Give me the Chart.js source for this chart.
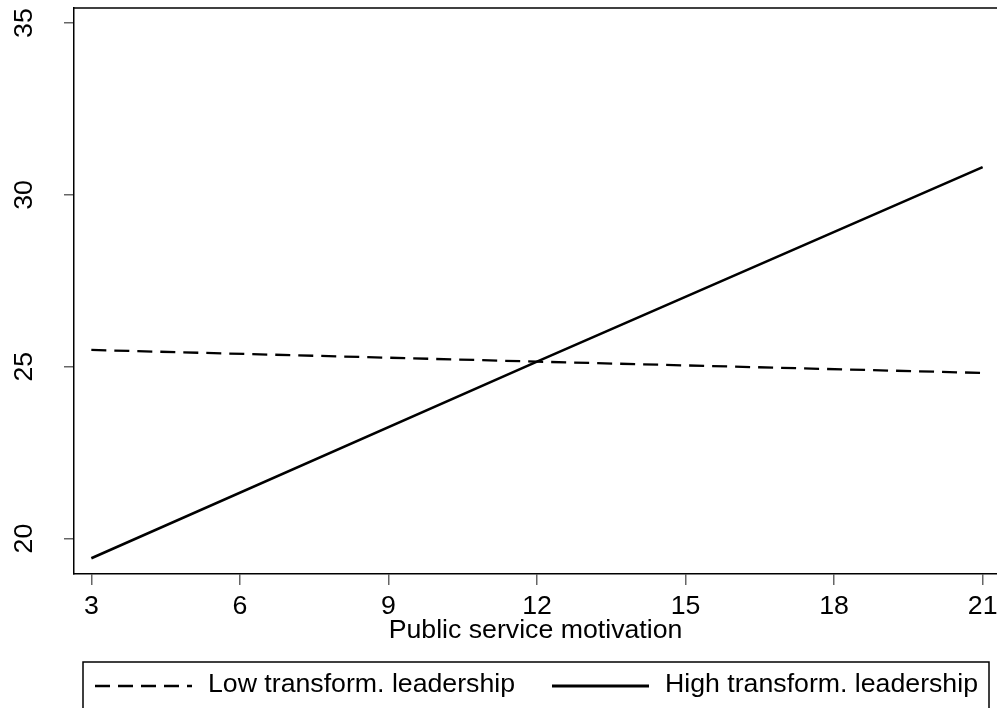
<!DOCTYPE html>
<html>
<head>
<meta charset="utf-8">
<script src="https://cdn.jsdelivr.net/npm/chart.js@4"></script>
<style>
  body { margin: 0; background: #fff; }
  canvas { display: block; }
</style>
</head>
<body>
<canvas id="grafico" width="997" height="708"></canvas>
<script>
// dados
const psm = [3, 12, 21];
const lowLeadership = [25.49, 25.15, 24.82];
const highLeadership = [19.43, 25.15, 30.81];
const xTicks = [3, 6, 9, 12, 15, 18, 21];
const yTicks = [20, 25, 30, 35];

const fonte = 'Liberation Sans, Arial, Helvetica, sans-serif';
const tamanho = 26.7;

function pontos(valores) {
  return psm.map((x, i) => ({ x: x, y: valores[i] }));
}

// rótulos do eixo y girados (como no Stata)
const rotulosY = {
  id: 'rotulosY',
  afterDraw(chart) {
    const c = chart.ctx;
    const y = chart.scales.y;
    c.save();
    c.fillStyle = '#000';
    c.font = tamanho + 'px ' + fonte;
    c.textAlign = 'center';
    c.textBaseline = 'alphabetic';
    y.ticks.forEach(t => {
      const py = y.getPixelForValue(t.value);
      c.save();
      c.translate(31.5, py);
      c.rotate(-Math.PI / 2);
      c.fillText(String(t.value), 0, 0);
      c.restore();
    });
    c.restore();
  }
};

// linha de cima da área do gráfico
const bordaTopo = {
  id: 'bordaTopo',
  afterDraw(chart) {
    const a = chart.chartArea;
    const c = chart.ctx;
    c.save();
    c.strokeStyle = '#000';
    c.lineWidth = 1.5;
    c.beginPath();
    c.moveTo(a.left, a.top);
    c.lineTo(a.right, a.top);
    c.stroke();
    c.restore();
  }
};

// legenda com moldura embaixo
const legenda = {
  id: 'legenda',
  afterDraw(chart) {
    const c = chart.ctx;
    c.save();
    c.strokeStyle = '#000';
    c.lineWidth = 1.5;
    c.strokeRect(83, 662, 906, 80);

    const inicio = [95, 552];
    chart.data.datasets.forEach((ds, i) => {
      const x0 = inicio[i];
      c.strokeStyle = ds.borderColor;
      c.lineWidth = ds.borderWidth + 0.4;
      c.setLineDash(ds.borderDash || []);
      c.beginPath();
      c.moveTo(x0, 686);
      c.lineTo(x0 + 97, 686);
      c.stroke();
      c.setLineDash([]);
      c.fillStyle = '#000';
      c.font = tamanho + 'px ' + fonte;
      c.textAlign = 'left';
      c.textBaseline = 'middle';
      c.fillText(ds.label, x0 + 113, 685);
    });
    c.restore();
  }
};

const ctx = document.getElementById('grafico').getContext('2d');

const chart = new Chart(ctx, {
  type: 'line',
  data: {
    datasets: [
      {
        label: 'Low transform. leadership',
        data: pontos(lowLeadership),
        borderColor: '#000',
        borderWidth: 2.3,
        borderDash: [15, 8],
        pointRadius: 0,
        fill: false,
        tension: 0
      },
      {
        label: 'High transform. leadership',
        data: pontos(highLeadership),
        borderColor: '#000',
        borderWidth: 2.6,
        pointRadius: 0,
        fill: false,
        tension: 0
      }
    ]
  },
  options: {
    responsive: false,
    animation: false,
    layout: { padding: { top: 8, right: 0, bottom: 0, left: 0 } },
    plugins: {
      legend: { display: false },
      tooltip: { enabled: false }
    },
    scales: {
      x: {
        type: 'linear',
        min: 2.65,
        max: 21.29,
        afterBuildTicks: s => { s.ticks = xTicks.map(v => ({ value: v })); },
        afterFit: s => { s.paddingLeft = 0; s.paddingRight = 0; s.height = 134; },
        border: { display: true, color: '#000', width: 1.5 },
        grid: { drawOnChartArea: false, drawTicks: true, tickLength: 11, color: '#666', lineWidth: 1.5 },
        ticks: {
          color: '#000',
          padding: 5.5,
          maxRotation: 0,
          autoSkip: false,
          font: { family: fonte, size: tamanho }
        },
        title: {
          display: true,
          text: 'Public service motivation',
          color: '#000',
          font: { family: fonte, size: tamanho },
          padding: { top: 0, bottom: 61 }
        }
      },
      y: {
        type: 'linear',
        min: 18.97,
        max: 35.44,
        afterBuildTicks: s => { s.ticks = yTicks.map(v => ({ value: v })); },
        afterFit: s => { s.width = 74; s.paddingTop = 0; s.paddingBottom = 0; },
        border: { display: true, color: '#000', width: 1.5 },
        grid: { drawOnChartArea: false, drawTicks: true, tickLength: 10, color: '#666', lineWidth: 1.5 },
        ticks: { display: false }
      }
    }
  },
  plugins: [rotulosY, bordaTopo, legenda]
});
</script>
</body>
</html>
